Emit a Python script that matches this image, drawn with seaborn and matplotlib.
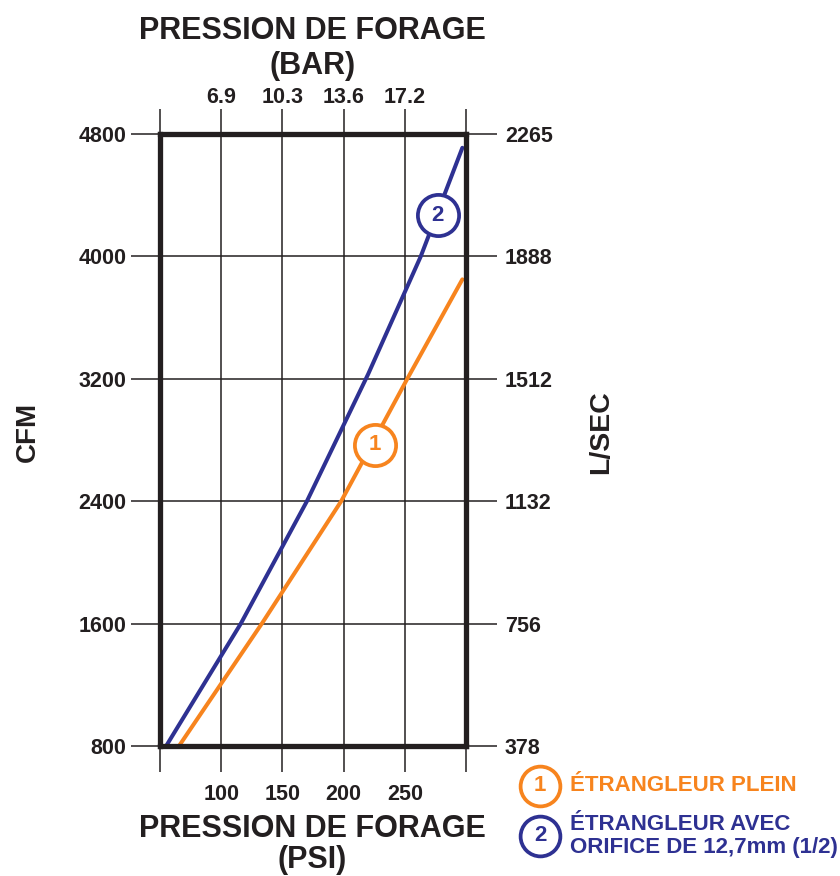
import seaborn as sns
import numpy as np
import pandas as pd
import matplotlib.pyplot as plt

# values (PSI vs CFM)
psi_plein = [65.5, 134, 198, 252, 297]
cfm_plein = [800, 1610, 2400, 3200, 3850]
psi_orifice = [55, 116, 170, 220, 263, 297]
cfm_orifice = [800, 1600, 2400, 3230, 4000, 4710]

psi_ticks = [50, 100, 150, 200, 250, 300]
psi_labels = ['', '100', '150', '200', '250', '']
bar_labels = ['', '6.9', '10.3', '13.6', '17.2', '']
cfm_ticks = [800, 1600, 2400, 3200, 4000, 4800]
lsec_labels = ['378', '756', '1132', '1512', '1888', '2265']

# circled curve labels (position on chart)
tag_psi = [225.5, 277]
tag_cfm = [2770, 4270]

ORANGE = '#F7841E'
BLUE = '#2E3192'
INK = '#231f20'

sns.set_theme(style='white')
plt.rcParams['font.family'] = ['Liberation Sans', 'DejaVu Sans']
plt.rcParams['font.weight'] = 'bold'

df = pd.concat([
    pd.DataFrame({'psi': psi_plein, 'cfm': cfm_plein, 'serie': '1'}),
    pd.DataFrame({'psi': psi_orifice, 'cfm': cfm_orifice, 'serie': '2'}),
])

fig = plt.figure(figsize=(8.4, 8.76), dpi=100)
ax = fig.add_axes([0.1905, 0.1484, 0.3643, 0.6986])

ax.grid(True, color=INK, lw=1.1)
sns.lineplot(data=df, x='psi', y='cfm', hue='serie', palette={'1': ORANGE, '2': BLUE},
             lw=2.9, legend=False, sort=False, estimator=None, ax=ax, zorder=3)

ax.set_xlim(50, 300)
ax.set_ylim(800, 4800)
ax.set_xticks(psi_ticks)
ax.set_xticklabels(psi_labels)
ax.set_yticks(cfm_ticks)
ax.set_yticklabels([str(v) for v in cfm_ticks])
ax.set_xlabel('')
ax.set_ylabel('')
ax.tick_params(axis='x', direction='out', length=19, width=1.1, color=INK, pad=8,
               labelsize=15.5, labelcolor=INK, bottom=True)
ax.tick_params(axis='y', direction='out', length=21, width=1.1, color=INK, pad=3,
               labelsize=15.5, labelcolor=INK, left=True)
for s in ax.spines.values():
    s.set_linewidth(3.8)
    s.set_color(INK)
    s.set_zorder(5)

# top axis in bar
axt = ax.twiny()
axt.set_xlim(ax.get_xlim())
axt.set_xticks(psi_ticks)
axt.set_xticklabels(bar_labels)
axt.tick_params(axis='x', direction='out', length=18, width=1.1, color=INK, pad=0.5,
                labelsize=15.5, labelcolor=INK, top=True)
# right axis in l/sec
axr = ax.twinx()
axr.set_ylim(ax.get_ylim())
axr.set_yticks(cfm_ticks)
axr.set_yticklabels(lsec_labels)
axr.tick_params(axis='y', direction='out', length=22, width=1.1, color=INK, pad=6,
                labelsize=15.5, labelcolor=INK, right=True)
for a in (axt, axr):
    for s in a.spines.values():
        s.set_visible(False)

# circled numbers on the curves
for x, y, c, t in zip(tag_psi, tag_cfm, [ORANGE, BLUE], ['1', '2']):
    ax.scatter([x], [y], s=880, facecolor='white', edgecolor=c, linewidth=2.7, zorder=6)
    ax.text(x, y, t, color=c, fontsize=16, fontweight='bold', ha='center', va='center', zorder=7)

# axis titles
fig.text(0.372, 0.965, 'PRESSION DE FORAGE', fontsize=22, color=INK, ha='center', va='center')
fig.text(0.372, 0.925, '(BAR)', fontsize=22, color=INK, ha='center', va='center')
fig.text(0.372, 0.0535, 'PRESSION DE FORAGE', fontsize=22, color=INK, ha='center', va='center')
fig.text(0.372, 0.0185, '(PSI)', fontsize=22, color=INK, ha='center', va='center')
fig.text(0.033, 0.507, 'CFM', fontsize=20, color=INK, rotation=90, ha='center', va='center')
fig.text(0.716, 0.507, 'L/SEC', fontsize=20.5, color=INK, rotation=90, ha='center', va='center')

# legend
leg_x = [0.643, 0.643]
leg_y = [0.103, 0.046]
for x, y, c, t in zip(leg_x, leg_y, [ORANGE, BLUE], ['1', '2']):
    ax.scatter([x], [y], s=820, facecolor='white', edgecolor=c, linewidth=2.7,
               transform=fig.transFigure, clip_on=False, zorder=6)
    fig.text(x, y, t, color=c, fontsize=16, ha='center', va='center', zorder=7)
fig.text(0.678, 0.103, 'ÉTRANGLEUR PLEIN', color=ORANGE, fontsize=16, va='center')
fig.text(0.678, 0.046, 'ÉTRANGLEUR AVEC\nORIFICE DE 12,7mm (1/2)', color=BLUE,
         fontsize=16, va='center', linespacing=1.12)

fig.savefig('out.png', dpi=100, facecolor='white')
